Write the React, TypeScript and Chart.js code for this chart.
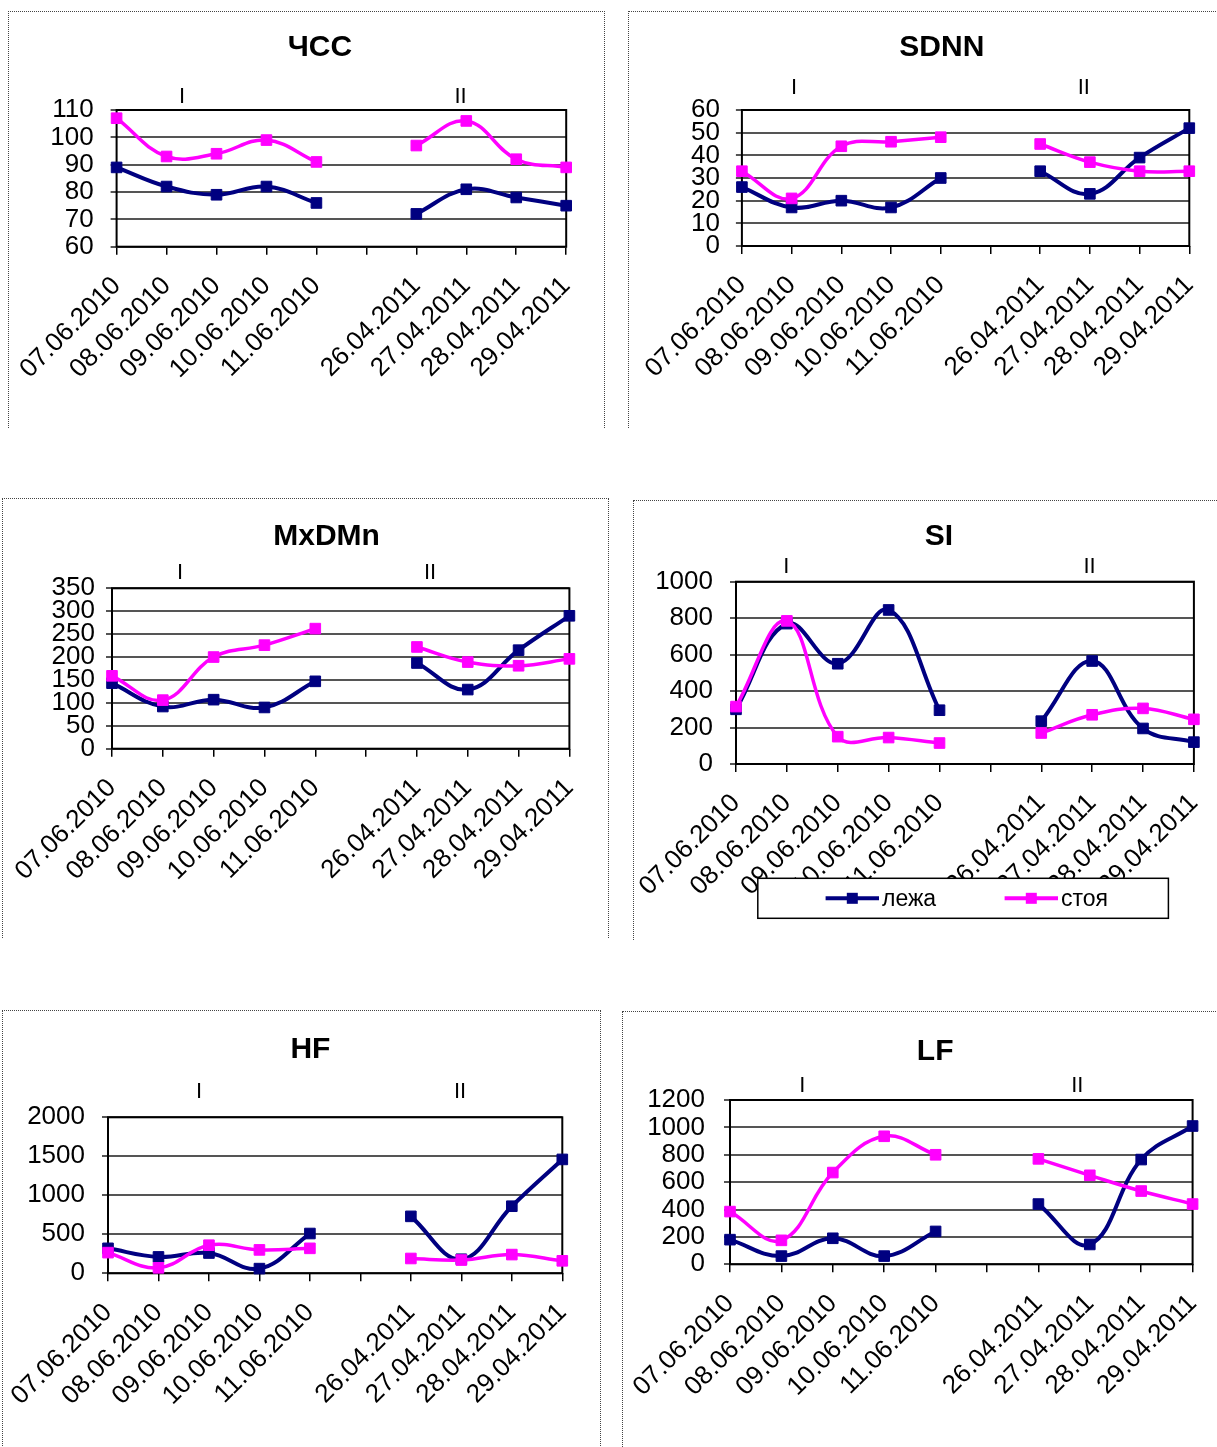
import React, { useEffect, useRef } from 'react';
import { Chart, registerables } from 'chart.js';

Chart.register(...registerables);
Chart.defaults.font.family = '"Liberation Sans", Arial, sans-serif';

// ---------- data ----------
const categories = ['07.06.2010', '08.06.2010', '09.06.2010', '10.06.2010', '11.06.2010', '', '26.04.2011', '27.04.2011', '28.04.2011', '29.04.2011'];
const seriesNames = ['лежа', 'стоя'];
const titles = ['ЧСС', 'SDNN', 'MxDMn', 'SI', 'HF', 'LF'];
const periodLabels = ['I', 'II'];

const hrLying = [89, 82, 79, 82, 76, null, 72, 81, 78, 75];
const hrStanding = [107, 93, 94, 99, 91, null, 97, 106, 92, 89];
const sdnnLying = [26, 17, 20, 17, 30, null, 33, 23, 39, 52];
const sdnnStanding = [33, 21, 44, 46, 48, null, 45, 37, 33, 33];
const mxdmnLying = [143, 92, 107, 90, 147, null, 187, 129, 215, 290];
const mxdmnStanding = [159, 106, 200, 226, 262, null, 222, 189, 181, 196];
const siLying = [300, 770, 550, 845, 295, null, 235, 565, 195, 120];
const siStanding = [315, 785, 150, 145, 115, null, 170, 270, 305, 245];
const hfLying = [320, 210, 260, 60, 510, null, 730, 180, 860, 1460];
const hfStanding = [265, 70, 360, 300, 320, null, 190, 170, 240, 160];
const lfLying = [180, 60, 190, 60, 240, null, 440, 145, 765, 1010];
const lfStanding = [385, 175, 670, 935, 800, null, 770, 650, 535, 440];

const yMins = [60, 0, 0, 0, 0, 0];
const yMaxs = [110, 60, 350, 1000, 2000, 1200];
const ySteps = [10, 10, 50, 200, 500, 200];

const lyingSeries = [hrLying, sdnnLying, mxdmnLying, siLying, hfLying, lfLying];
const standingSeries = [hrStanding, sdnnStanding, mxdmnStanding, siStanding, hfStanding, lfStanding];

// ---------- layout / style ----------
const NAVY = '#000080';
const MAGENTA = '#FF00FF';

type Layout = {
  canvas: number[]; // x, y, w, h (page)
  plot: number[]; // left, top, right, bottom (page)
  yGap: number;
  title: number[];
  p1: number[];
  p2: number[];
  border: { x: number; y: number; w: number; h: number; right: boolean };
  legend?: boolean;
};

const layouts: Layout[] = [
  { canvas: [8, 11, 597, 417], plot: [116.6, 110, 566.2, 246.7], yGap: 23, title: [320, 48], p1: [182, 97], p2: [460.6, 97], border: { x: 8, y: 11, w: 597, h: 417, right: true } },
  { canvas: [628, 11, 589, 417], plot: [741.9, 110, 1189.3, 246], yGap: 22, title: [941.8, 48], p1: [794, 88], p2: [1083.8, 88], border: { x: 628, y: 11, w: 620, h: 417, right: false } },
  { canvas: [2, 498, 607, 440], plot: [112, 588.3, 569.4, 748.7], yGap: 17, title: [326.6, 536.7], p1: [180, 573], p2: [430, 573], border: { x: 2, y: 498, w: 607, h: 440, right: true } },
  { canvas: [633, 500, 584, 440], plot: [736, 581.7, 1193.9, 764], yGap: 23, title: [939, 536.7], p1: [786.4, 567], p2: [1089.5, 567], border: { x: 633, y: 500, w: 620, h: 440, right: false }, legend: true },
  { canvas: [2, 1010, 599, 437], plot: [108, 1117.3, 562.3, 1273.3], yGap: 23, title: [310.4, 1050], p1: [199, 1092], p2: [460, 1092], border: { x: 2, y: 1010, w: 599, h: 450, right: true } },
  { canvas: [622, 1011, 595, 436], plot: [730, 1100, 1192.6, 1264.3], yGap: 25, title: [935.2, 1051.7], p1: [802.4, 1086], p2: [1077.3, 1086], border: { x: 622, y: 1011, w: 620, h: 450, right: false } },
];

const FONT = '"Liberation Sans", Arial, sans-serif';
const TICK_SIZE = 26;

const overlayPlugin = {
  id: 'overlay',
  beforeDatasetsDraw(chart: any) {
    const { ctx, chartArea } = chart;
    ctx.save();
    ctx.strokeStyle = '#000';
    ctx.lineWidth = 2;
    ctx.strokeRect(chartArea.left, chartArea.top, chartArea.right - chartArea.left, chartArea.bottom - chartArea.top);
    ctx.restore();
  },
  afterDraw(chart: any) {
    const o = chart.options.plugins.overlay;
    if (!o) return;
    const { ctx } = chart;
    const ox = o.origin[0];
    const oy = o.origin[1];
    ctx.save();
    ctx.fillStyle = '#000';
    ctx.textAlign = 'center';
    ctx.textBaseline = 'middle';
    ctx.font = 'bold 30px ' + FONT;
    ctx.fillText(o.title, o.titlePos[0] - ox, o.titlePos[1] - oy);
    ctx.font = '22px ' + FONT;
    ctx.fillText(periodLabels[0], o.p1[0] - ox, o.p1[1] - oy);
    ctx.fillText(periodLabels[1], o.p2[0] - ox, o.p2[1] - oy);

    if (o.legend) {
      const lx = 757.8 - ox, ly = 878.3 - oy, lw = 410.6, lh = 40;
      ctx.fillStyle = '#fff';
      ctx.fillRect(lx, ly, lw, lh);
      ctx.strokeStyle = '#000';
      ctx.lineWidth = 1.5;
      ctx.strokeRect(lx, ly, lw, lh);
      const cyy = ly + lh / 2;
      const items = [
        { x1: 825.6 - ox, x2: 879 - ox, tx: 882 - ox, color: NAVY, text: chart.data.datasets[0].label },
        { x1: 1004.6 - ox, x2: 1058 - ox, tx: 1061 - ox, color: MAGENTA, text: chart.data.datasets[1].label },
      ];
      for (const it of items) {
        ctx.strokeStyle = it.color;
        ctx.lineWidth = 4;
        ctx.beginPath();
        ctx.moveTo(it.x1, cyy);
        ctx.lineTo(it.x2, cyy);
        ctx.stroke();
        ctx.fillStyle = it.color;
        const mx = (it.x1 + it.x2) / 2;
        ctx.fillRect(mx - 5.5, cyy - 5.5, 11, 11);
        ctx.fillStyle = '#000';
        ctx.textAlign = 'left';
        ctx.font = '23px ' + FONT;
        ctx.fillText(it.text, it.tx, cyy + 1);
      }
    }
    ctx.restore();
  },
};

function Panel({ index }: { index: number }) {
  const ref = useRef<HTMLCanvasElement>(null);
  const L = layouts[index];
  const [cx, cy, cw, ch] = L.canvas;
  useEffect(() => {
    const [pl, pt, pr, pb] = L.plot;
    const common = {
      pointStyle: 'rect',
      pointRadius: 7.5,
      pointHoverRadius: 7.5,
      pointBorderWidth: 1,
      tension: 0.4,
      spanGaps: false,
      clip: false,
    };
    const chart = new Chart(ref.current as HTMLCanvasElement, {
      type: 'line',
      data: {
        labels: categories,
        datasets: [
          { ...common, label: seriesNames[0], data: lyingSeries[index], borderWidth: 4, borderColor: NAVY, backgroundColor: NAVY, pointBackgroundColor: NAVY, pointBorderColor: NAVY, order: 1 },
          { ...common, label: seriesNames[1], data: standingSeries[index], borderWidth: 3.5, borderColor: MAGENTA, backgroundColor: MAGENTA, pointBackgroundColor: MAGENTA, pointBorderColor: MAGENTA, order: 0 },
        ],
      } as any,
      options: {
        responsive: false,
        animation: false,
        devicePixelRatio: 1,
        events: [],
        layout: { padding: { left: 0, top: pt - cy, right: cx + cw - pr, bottom: 0 } },
        plugins: {
          legend: { display: false },
          tooltip: { enabled: false },
          title: { display: false },
          overlay: { origin: [cx, cy], title: titles[index], titlePos: L.title, p1: L.p1, p2: L.p2, legend: !!L.legend },
        } as any,
        scales: {
          x: {
            type: 'category',
            offset: false,
            grid: { drawOnChartArea: false, drawTicks: true, tickLength: 8, color: '#000', lineWidth: 1.5 },
            border: { display: false },
            ticks: { autoSkip: false, maxRotation: 45, minRotation: 45, padding: 16, color: '#000', font: { size: TICK_SIZE, family: FONT } },
            afterFit: (s: any) => { s.height = cy + ch - pb; s.paddingLeft = 0; s.paddingRight = 0; },
          },
          y: {
            min: yMins[index],
            max: yMaxs[index],
            ticks: { stepSize: ySteps[index], autoSkip: false, padding: L.yGap - 6, color: '#000', font: { size: TICK_SIZE, family: FONT }, callback: (v: any) => String(v) },
            grid: { color: '#555555', lineWidth: 2, tickLength: 6, drawTicks: true },
            border: { display: false },
            afterFit: (s: any) => { s.width = pl - cx; s.paddingTop = 0; s.paddingBottom = 0; },
          },
        },
      } as any,
      plugins: [overlayPlugin],
    });
    return () => chart.destroy();
  }, [index]);
  return (
    <canvas
      ref={ref}
      width={cw}
      height={ch}
      style={{ position: 'absolute', left: cx, top: cy, width: cw, height: ch }}
    />
  );
}

function Border({ index }: { index: number }) {
  const b = layouts[index].border;
  const line = '1px dotted #444';
  return (
    <div
      style={{
        position: 'absolute',
        left: b.x,
        top: b.y,
        width: b.w,
        height: b.h,
        boxSizing: 'border-box',
        borderTop: line,
        borderLeft: line,
        borderRight: b.right ? line : 'none',
      }}
    />
  );
}

export default function App() {
  return (
    <div style={{ position: 'absolute', left: 0, top: 0, width: 1217, height: 1447, overflow: 'hidden', background: '#fff' }}>
      {layouts.map((_, i) => (
        <Border key={'b' + i} index={i} />
      ))}
      {layouts.map((_, i) => (
        <Panel key={'p' + i} index={i} />
      ))}
    </div>
  );
}
